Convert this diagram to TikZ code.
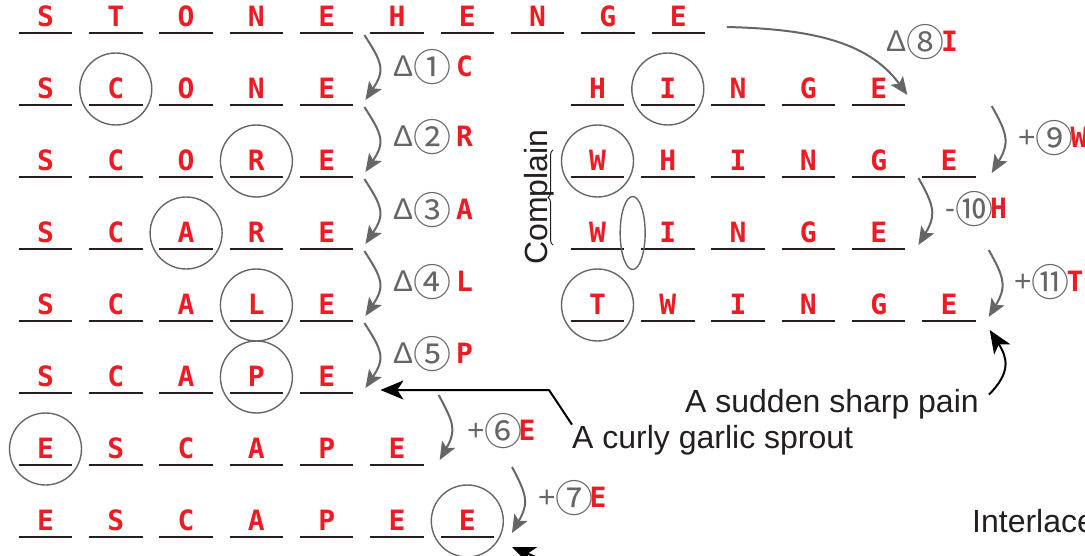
\documentclass[tikz,border=0pt]{standalone}
\usepackage{fontspec}
\setmainfont{Liberation Sans}
\newfontfamily\slotfont{DejaVu Sans Mono}
\newfontfamily\cjk{Noto Sans CJK JP}
\usetikzlibrary{positioning, calc, arrows.meta, shapes.geometric, decorations.pathreplacing}

\definecolor{hred}{HTML}{ED1C24}
\definecolor{hgray}{HTML}{666666}
\definecolor{ink}{HTML}{231F20}

\newcommand\redltr[1]{{\color{hred}\slotfont\bfseries\fontsize{28}{30}\selectfont #1}}
\newcommand\nth[1]{\raisebox{-5pt}{\cjk\fontsize{38}{38}\selectfont #1}}
% one word of the ladder, a letter on each blank
\newcommand\wordrow[4]{%
  \foreach \ltr [count=\i from 0] in {#4} {
    \node[slot] (#1\i) at ({#2+70.3*\i}, #3) {\ltr};
    \draw[uline] (#1\i.south west) -- (#1\i.south east);
  }}

\tikzset{
  slot/.style={anchor=south, minimum width=53pt, inner sep=0pt, text height=21pt, text depth=6pt,
    text=hred, font=\slotfont\bfseries\fontsize{28}{30}\selectfont},
  uline/.style={draw=ink, line width=2.6pt},
  ring/.style={circle, draw=hgray, line width=1.4pt, minimum size=72pt, inner sep=0pt},
  oval/.style={ellipse, draw=hgray, line width=1.4pt, minimum width=25pt, minimum height=73pt, inner sep=0pt},
  hop/.style={draw=hgray, line width=2pt, -{Stealth[length=18pt, width=15pt, inset=4pt]}},
  callout/.style={draw=black, line width=2pt, -{Stealth[length=23pt, width=19pt, inset=6pt]}},
  note/.style={anchor=base west, inner sep=0pt, text=hgray, font=\fontsize{30}{32}\selectfont},
  caption/.style={anchor=base west, inner sep=0pt, text=ink, font=\fontsize{32}{34}\selectfont},
  bracket/.style={decorate, decoration={brace, amplitude=5pt}, draw=ink, line width=1pt},
}

\begin{document}
\begin{tikzpicture}[x=1pt, y=-1pt]
\clip (0,0) rectangle (1085,556);
% the words
\wordrow{sh}{45.5}{33}{S,T,O,N,E,H,E,N,G,E}
\wordrow{scone}{45.5}{105}{S,C,O,N,E}
\wordrow{score}{45.5}{177}{S,C,O,R,E}
\wordrow{scare}{45.5}{249}{S,C,A,R,E}
\wordrow{scale}{45.5}{321}{S,C,A,L,E}
\wordrow{scape}{45.5}{393}{S,C,A,P,E}
\wordrow{escape}{45.5}{465}{E,S,C,A,P,E}
\wordrow{escapee}{45.5}{537}{E,S,C,A,P,E,E}
\wordrow{hinge}{597.5}{105}{H,I,N,G,E}
\wordrow{whinge}{597.5}{177}{W,H,I,N,G,E}
\wordrow{winge}{597.5}{249}{W,I,N,G,E}
\wordrow{twinge}{597.5}{321}{T,W,I,N,G,E}

% changed letters
\node[ring] (ringC) at ([yshift=16pt]scone1.south) {};
\node[ring] (ringR) at ([yshift=16pt]score3.south) {};
\node[ring] (ringA) at ([yshift=16pt]scare2.south) {};
\node[ring] (ringL) at ([yshift=16pt]scale3.south) {};
\node[ring] (ringP) at ([yshift=16pt]scape3.south) {};
\node[ring] (ringE1) at ([yshift=16pt]escape0.south) {};
\node[ring] (ringE2) at ([yshift=16pt]escapee6.south) {};
\node[ring] (ringI) at ([yshift=16pt]hinge1.south) {};
\node[ring] (ringW) at ([yshift=16pt]whinge0.south) {};
\node[ring] (ringT) at ([yshift=16pt]twinge0.south) {};
\node[oval] (gapH) at ($(winge0.south east)!.5!(winge1.south west)+(0,-16)$) {};

% steps
\draw[hop] ($(sh4.south east)+(11,2)$) .. controls +(18,28) and +(20,-30) .. ($(scone4.south east)+(12,-5)$);
\draw[hop] ($(scone4.south east)+(11,2)$) .. controls +(18,28) and +(20,-30) .. ($(score4.south east)+(12,-5)$);
\draw[hop] ($(score4.south east)+(11,2)$) .. controls +(18,28) and +(20,-30) .. ($(scare4.south east)+(12,-5)$);
\draw[hop] ($(scare4.south east)+(11,2)$) .. controls +(18,28) and +(20,-30) .. ($(scale4.south east)+(12,-5)$);
\draw[hop] ($(scale4.south east)+(11,2)$) .. controls +(18,28) and +(20,-30) .. ($(scape4.south east)+(12,-5)$);
\draw[hop] ($(escape5.south east |- scape4.south east)+(15,2)$) .. controls +(15,28) and +(17,-30) .. ($(escape5.south east)+(16,-5)$);
\draw[hop] ($(escapee6.south east |- escape5.south east)+(18,2)$) .. controls +(15,28) and +(17,-30) .. ($(escapee6.south east)+(18,-4)$);
\draw[hop] ($(sh9.south east)+(22,-6)$) .. controls +(80,2) and +(-40,-55) .. ($(hinge4.south east)+(2,-10)$);
\draw[hop] ($(whinge5.south east |- hinge4.south east)+(16,1)$) .. controls +(16,28) and +(18,-30) .. ($(whinge5.south east)+(16,-4)$);
\draw[hop] ($(winge4.south east |- whinge5.south east)+(13,1)$) .. controls +(16,28) and +(18,-30) .. ($(winge4.south east)+(13,-4)$);
\draw[hop] ($(twinge5.south east |- winge4.south east)+(13,1)$) .. controls +(16,28) and +(18,-30) .. ($(twinge5.south east)+(13,-4)$);

\node[note] (op1) at (393,77) {Δ\nth{①}\,\redltr{C}};
\node[note] (op2) at (393,147) {Δ\nth{②}\,\redltr{R}};
\node[note] (op3) at (393,220) {Δ\nth{③}\,\redltr{A}};
\node[note] (op4) at (393,292) {Δ\nth{④}\,\redltr{L}};
\node[note] (op5) at (393,363) {Δ\nth{⑤}\,\redltr{P}};
\node[note] (op6) at (467,440) {+\nth{⑥}\kern-4pt\redltr{E}};
\node[note] (op7) at (538,507) {+\nth{⑦}\kern-4pt\redltr{E}};
\node[note] (op8) at (886,52) {Δ\nth{⑧}\kern-3pt\redltr{I}};
\node[note] (op9) at (1018,148) {+\nth{⑨}\kern-3pt\redltr{W}};
\node[note] (op10) at (945,219) {-\nth{⑩}\kern-3pt\redltr{H}};
\node[note] (op11) at (1014,292) {+\nth{⑪}\kern-3pt\redltr{T}};

% meanings
\node[caption, rotate=90, anchor=base] (complain) at (547,197) {Complain};
\draw[bracket] (553,245) -- (553,150);
\node[caption] (pain) at (685,412) {A sudden sharp pain};
\node[caption] (sprout) at (572,448) {A curly garlic sprout};
\node[caption] (interlace) at (972,532) {Interlace};
\coordinate (scapeTip) at ($(scape4.south east)+(27,-3)$);
\draw[callout] (sprout.north west) -- ($(scapeTip -| sprout.north west)+(-23,0)$) -- (scapeTip);
\draw[callout] ($(pain.north east)+(10,6)$) .. controls +(22,-22) and +(18,28) .. ($(twinge5.south east)+(14,9)$);
\coordinate (offbelow) at ($(escapee6.south east)+(70,32)$);
\draw[callout] (offbelow) -- ($(escapee6.south east)+(18,10)$);
\end{tikzpicture}
\end{document}
